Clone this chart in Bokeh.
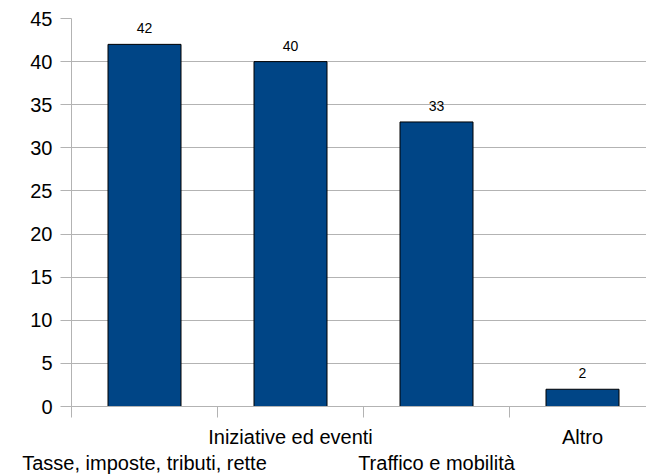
from bokeh.plotting import figure
from bokeh.models import Range1d, FixedTicker, LinearAxis, ColumnDataSource
from bokeh.embed import file_html
from bokeh.resources import INLINE
from bokeh.core.properties import value

categories = ["Tasse, imposte, tributi, rette", "Iniziative ed eventi", "Traffico e mobilità", "Altro"]
values = [42, 40, 33, 2]
y_ticks = [0, 5, 10, 15, 20, 25, 30, 35, 40, 45]

FONT = "Liberation Sans"
xs = [i + 0.5 for i in range(len(categories))]
bounds = [i for i in range(len(categories) + 1)]
src = ColumnDataSource(dict(x=xs, top=values, lab=[str(v) for v in values]))

p = figure(width=646, height=476, output_backend="svg", toolbar_location=None,
           x_range=Range1d(0, 575 / 146), y_range=Range1d(0, 45),
           min_border_left=71, min_border_right=0, min_border_top=18, min_border_bottom=69)
p.outline_line_color = None
p.background_fill_color = "white"

p.vbar(x="x", top="top", width=0.5, bottom=0, source=src,
       fill_color="#004586", line_color="black", line_width=1)
p.text(x="x", y="top", text="lab", source=src, text_align="center", text_baseline="bottom",
       y_offset=-11, text_font=value(FONT), text_font_size="14px", text_color="black")

grid_c = "#b3b3b3"
p.xgrid.visible = False
p.ygrid.grid_line_color = grid_c
p.ygrid.ticker = FixedTicker(ticks=y_ticks)

p.yaxis.ticker = FixedTicker(ticks=y_ticks)
p.yaxis.axis_line_color = grid_c
p.yaxis.major_tick_line_color = grid_c
p.yaxis.major_tick_out = 11
p.yaxis.major_tick_in = 0
p.yaxis.minor_tick_line_color = None
p.yaxis.major_label_text_font = FONT
p.yaxis.major_label_text_font_size = "20px"
p.yaxis.major_label_text_color = "black"
p.yaxis.major_label_standoff = 8

# first row of category labels (odd positions) + boundary ticks as minor ticks
row1 = {xs[i]: (categories[i] if i % 2 == 1 else "") for i in range(len(categories))}
p.xaxis.ticker = FixedTicker(ticks=xs, minor_ticks=bounds)
p.xaxis.major_label_overrides = row1
p.xaxis.axis_line_color = grid_c
p.xaxis.major_tick_line_color = None
p.xaxis.major_tick_out = 0
p.xaxis.major_tick_in = 0
p.xaxis.minor_tick_line_color = grid_c
p.xaxis.minor_tick_out = 11
p.xaxis.minor_tick_in = 0
p.xaxis.major_label_standoff = 8
p.xaxis.major_label_text_font = FONT
p.xaxis.major_label_text_font_size = "20px"
p.xaxis.major_label_text_color = "black"

# second row (even positions)
row2 = {xs[i]: (categories[i] if i % 2 == 0 else "") for i in range(len(categories))}
ax2 = LinearAxis(ticker=FixedTicker(ticks=xs), major_label_overrides=row2,
                 axis_line_color=None, major_tick_line_color=None, minor_tick_line_color=None,
                 major_tick_out=0, major_tick_in=0, major_label_standoff=1,
                 major_label_text_font=FONT, major_label_text_font_size="20px",
                 major_label_text_color="black")
p.add_layout(ax2, "below")

open("out.html", "w").write(file_html(p, INLINE))
